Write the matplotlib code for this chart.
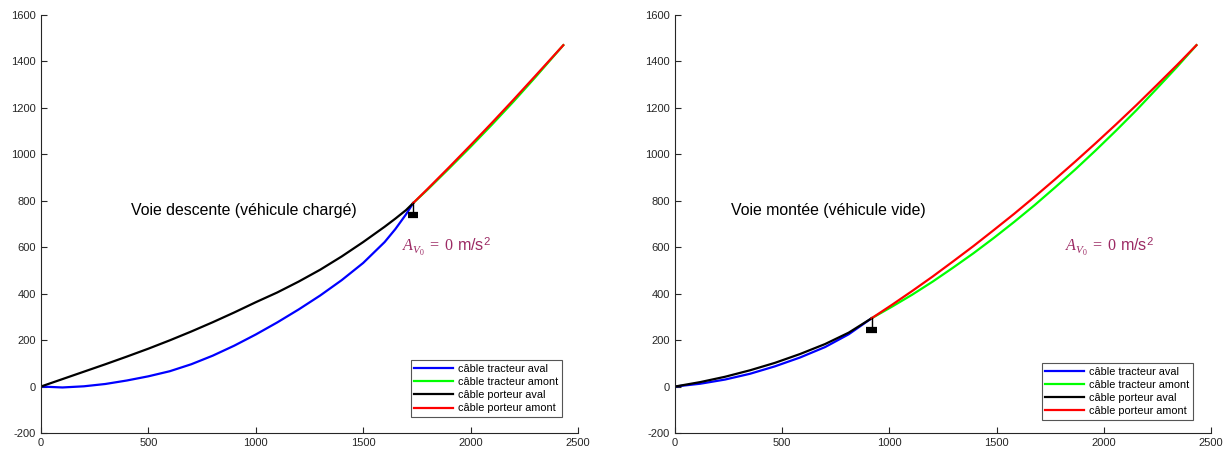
import numpy as np
import matplotlib
matplotlib.use("Agg")
import matplotlib.pyplot as plt

plt.rcParams['font.family'] = ['Liberation Sans', 'DejaVu Sans']
plt.rcParams['mathtext.fontset'] = 'custom'
plt.rcParams['mathtext.rm'] = 'Liberation Serif'
plt.rcParams['mathtext.it'] = 'Liberation Serif:italic'
plt.rcParams['mathtext.sf'] = 'Liberation Sans'
plt.rcParams['axes.unicode_minus'] = False

labels = ["câble tracteur aval", "câble tracteur amont",
          "câble porteur aval", "câble porteur amont"]
colors = ["#0000ff", "#00ff00", "#000000", "#ff0000"]

# voie descente (véhicule chargé)
d_blue_x = [0, 100, 200, 300, 400, 500, 600, 700, 800, 900, 1000, 1100, 1200,
            1300, 1400, 1500, 1600, 1650, 1700, 1733]
d_blue_y = [0, -4, 1, 11, 26, 44, 66, 96, 133, 176, 224, 276, 332,
            392, 458, 532, 622, 678, 742, 790]
d_black_x = [0, 100, 200, 300, 400, 500, 600, 700, 800, 900, 1000, 1100, 1200,
             1300, 1400, 1500, 1600, 1650, 1700, 1733]
d_black_y = [0, 32, 64, 96, 129, 163, 199, 237, 277, 319, 363, 405, 452,
             503, 560, 622, 688, 723, 760, 790]
d_red_x = [1733, 1800, 1900, 2000, 2100, 2200, 2300, 2432]
d_red_y = [790, 851, 944, 1039, 1136, 1235, 1336, 1470]
d_green_x = [1733, 1800, 1900, 2000, 2100, 2200, 2300, 2432]
d_green_y = [790, 848, 939, 1032, 1128, 1227, 1330, 1470]
d_vehicle = (1733, 790)

# voie montée (véhicule vide)
m_blue_x = [0, 117, 233, 350, 466, 583, 700, 810, 917]
m_blue_y = [0, 12, 30, 55, 87, 125, 170, 225, 294]
m_black_x = [0, 117, 233, 350, 466, 583, 700, 810, 917]
m_black_y = [0, 19, 42, 70, 102, 140, 183, 232, 294]
m_red_x = [917, 1012, 1107, 1202, 1297, 1392, 1487, 1582, 1677, 1772, 1867,
           1962, 2057, 2152, 2247, 2342, 2432]
m_red_y = [294, 352, 412, 474, 539, 605, 674, 744, 817, 892, 969,
           1048, 1129, 1212, 1298, 1385, 1470]
m_green_x = [917, 1012, 1107, 1202, 1297, 1392, 1487, 1582, 1677, 1772, 1867,
             1962, 2057, 2152, 2247, 2342, 2432]
m_green_y = [294, 344, 396, 452, 512, 574, 640, 709, 781, 857, 935,
             1017, 1102, 1190, 1283, 1377, 1470]
m_vehicle = (917, 294)

xticks = [0, 500, 1000, 1500, 2000, 2500]
yticks = list(range(-200, 1601, 200))

accel_label = r'$A_{V_0}\;=\;0$ m/s$^{\mathsf{2}}$'
accel_color = '#9c2a64'


def draw(ax, series, vehicle, title, title_pos, accel_pos, legend_anchor):
    for (x, y), c, lab in zip(series, colors, labels):
        ax.plot(x, y, color=c, lw=1.6, label=lab)
    vx, vy = vehicle
    # cabin hanging under the junction
    ax.plot([vx, vx], [vy, vy - 42], color='k', lw=1.0)
    ax.plot([vx - 24, vx + 24], [vy - 50, vy - 50], color='k', lw=4.5,
            solid_capstyle='butt')
    ax.text(title_pos[0], title_pos[1], title, fontsize=11.4, va='center')
    ax.text(accel_pos[0], accel_pos[1], accel_label, fontsize=11.6,
            color=accel_color, va='center')
    ax.set_xlim(0, 2500)
    ax.set_ylim(-200, 1600)
    ax.set_xticks(xticks)
    ax.set_yticks(yticks)
    for s in ['top', 'right']:
        ax.spines[s].set_visible(False)
    for s in ['left', 'bottom']:
        ax.spines[s].set_color('#262626')
        ax.spines[s].set_linewidth(0.8)
    ax.tick_params(direction='in', length=4, labelsize=8, colors='#262626',
                   labelcolor='#262626', width=0.8)
    leg = ax.legend(loc='lower right', bbox_to_anchor=legend_anchor,
                    fontsize=7.8, handlelength=3.6, labelspacing=0.28,
                    handletextpad=0.4, borderpad=0.35, borderaxespad=0,
                    fancybox=False, framealpha=1)
    leg.get_frame().set_edgecolor('#555555')
    leg.get_frame().set_linewidth(0.8)


fig = plt.figure(figsize=(12.26, 4.55), dpi=100)
ax1 = fig.add_axes([0.0334, 0.0484, 0.438, 0.9187])
ax2 = fig.add_axes([0.5506, 0.0484, 0.4372, 0.9187])

draw(ax1,
     [(d_blue_x, d_blue_y), (d_green_x, d_green_y),
      (d_black_x, d_black_y), (d_red_x, d_red_y)],
     d_vehicle, "Voie descente (véhicule chargé)", (419, 760), (1681, 601),
     (0.970, 0.038))
draw(ax2,
     [(m_blue_x, m_blue_y), (m_green_x, m_green_y),
      (m_black_x, m_black_y), (m_red_x, m_red_y)],
     m_vehicle, "Voie montée (véhicule vide)", (261, 757), (1819, 601),
     (0.966, 0.031))

fig.savefig("out.png", dpi=100)
